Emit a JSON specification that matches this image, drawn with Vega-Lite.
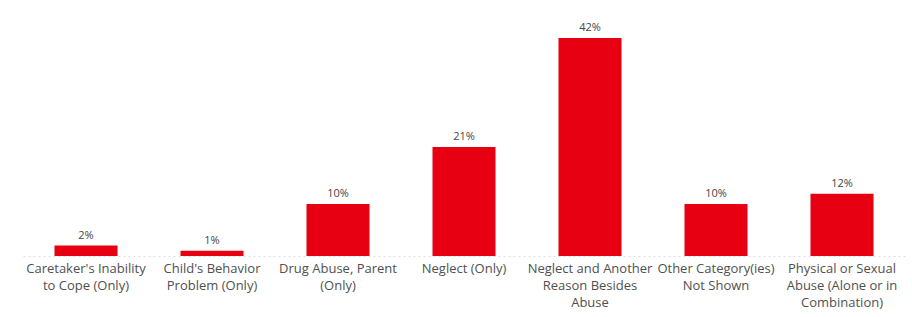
{
  "$schema": "https://vega.github.io/schema/vega-lite/v6.json",
  "width": 882,
  "height": 256,
  "autosize": "none",
  "padding": {"left": 23, "top": 0, "right": 7, "bottom": 61},
  "background": "white",
  "config": {"view": {"stroke": null}, "font": "Open Sans"},
  "data": {
    "values": [
      {"cause": "Caretaker's Inability\nto Cope (Only)", "share": 0.02},
      {"cause": "Child's Behavior\nProblem (Only)", "share": 0.01},
      {"cause": "Drug Abuse, Parent\n(Only)", "share": 0.10},
      {"cause": "Neglect (Only)", "share": 0.21},
      {"cause": "Neglect and Another\nReason Besides\nAbuse", "share": 0.42},
      {"cause": "Other Category(ies)\nNot Shown", "share": 0.10},
      {"cause": "Physical or Sexual\nAbuse (Alone or in\nCombination)", "share": 0.12}
    ]
  },
  "encoding": {
    "x": {
      "field": "cause",
      "type": "nominal",
      "sort": null,
      "scale": {"paddingInner": 0.5, "paddingOuter": 0.25},
      "axis": {
        "title": null,
        "labelAngle": 0,
        "labelExpr": "split(datum.label, '\\n')",
        "labelFont": "Open Sans",
        "labelFontSize": 13,
        "labelColor": "#505050",
        "labelLineHeight": 17,
        "labelPadding": 6,
        "ticks": false,
        "domain": true,
        "domainColor": "#dddddd",
        "domainDash": [2, 3],
        "labelLimit": 200
      }
    },
    "y": {
      "field": "share",
      "type": "quantitative",
      "scale": {"domain": [0, 0.493]},
      "axis": null
    }
  },
  "layer": [
    {"mark": {"type": "bar", "color": "#e60012"}},
    {
      "mark": {"type": "text", "baseline": "bottom", "dy": -5, "fontSize": 11, "color": "#444444", "font": "Open Sans"},
      "encoding": {"text": {"field": "share", "type": "quantitative", "format": ".0%"}}
    }
  ]
}
